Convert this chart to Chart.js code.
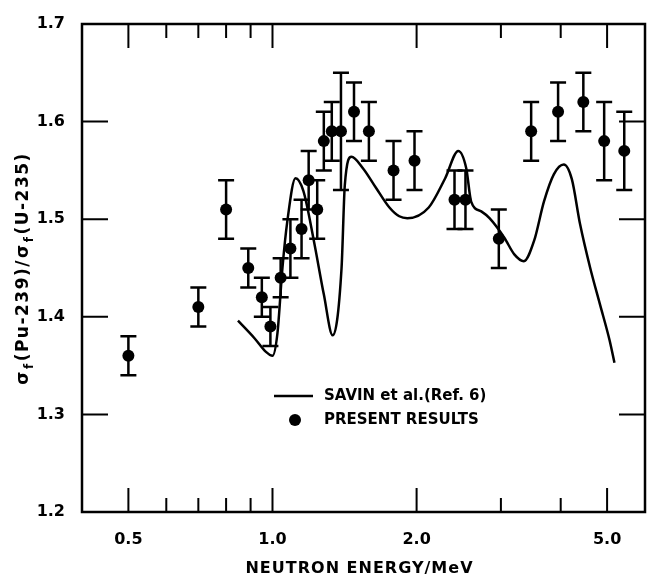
<!DOCTYPE html>
<html>
<head>
<meta charset="utf-8">
<script src="https://cdn.jsdelivr.net/npm/chart.js@4.4.0/dist/chart.umd.min.js"></script>
<style>
  html, body { margin: 0; padding: 0; background: #fff; }
  #wrap { width: 651px; height: 575px; }
</style>
</head>
<body>
<div id="wrap"><canvas id="ratioChart" width="651" height="575"></canvas></div>
<script>
// present results: neutron energy (MeV), ratio and its error
const energies = [0.50, 0.70, 0.80, 0.89, 0.95, 0.99, 1.04, 1.09, 1.15, 1.19, 1.24, 1.28, 1.33,
                  1.39, 1.48, 1.59, 1.79, 1.98, 2.40, 2.53, 2.97, 3.47, 3.95, 4.46, 4.93, 5.43];
const ratios = [1.36, 1.41, 1.51, 1.45, 1.42, 1.39, 1.44, 1.47, 1.49, 1.54, 1.51, 1.58, 1.59,
                1.59, 1.61, 1.59, 1.55, 1.56, 1.52, 1.52, 1.48, 1.59, 1.61, 1.62, 1.58, 1.57];
const errors = [0.02, 0.02, 0.03, 0.02, 0.02, 0.02, 0.02, 0.03, 0.03, 0.03, 0.03, 0.03, 0.03,
                0.06, 0.03, 0.03, 0.03, 0.03, 0.03, 0.03, 0.03, 0.03, 0.03, 0.03, 0.04, 0.04];

// Savin et al. (Ref. 6) curve
const savinEnergies = [0.847, 0.917, 0.969, 1.00, 1.024, 1.049, 1.074, 1.117, 1.16, 1.22, 1.28, 1.336,
                       1.394, 1.416, 1.462, 1.546, 1.646, 1.755, 1.84, 1.913, 2.12, 2.295, 2.444, 2.54,
                       2.60, 2.73, 2.84, 3.05, 3.20, 3.35, 3.52, 3.69, 3.87, 4.06, 4.22, 4.39, 4.61,
                       4.83, 5.06, 5.18];
const savinRatios = [1.396, 1.378, 1.364, 1.360, 1.383, 1.450, 1.498, 1.542, 1.529, 1.478, 1.423, 1.381,
                     1.450, 1.535, 1.564, 1.552, 1.532, 1.512, 1.503, 1.501, 1.512, 1.542, 1.570, 1.552,
                     1.518, 1.508, 1.501, 1.481, 1.464, 1.457, 1.478, 1.518, 1.546, 1.556, 1.541, 1.495,
                     1.450, 1.413, 1.376, 1.353];

// axis ticks
const xMajorTicks = [0.5, 1.0, 2.0, 5.0];
const xMinorTicks = [0.6, 0.7, 0.8, 0.9, 3.0, 4.0];
const yTicks = [1.3, 1.4, 1.5, 1.6];

const FONT = "'DejaVu Sans', sans-serif";

// frame, inward ticks, error bars, titles and legend
const framePlugin = {
    id: 'frame',
    afterDatasetsDraw(chart) {
        const ctx = chart.ctx;
        const x = chart.scales.x, y = chart.scales.y;
        ctx.save();
        ctx.strokeStyle = '#000';
        ctx.lineWidth = 2.5;
        energies.forEach((e, i) => {
            const px = x.getPixelForValue(e);
            const top = y.getPixelForValue(ratios[i] + errors[i]);
            const bot = y.getPixelForValue(ratios[i] - errors[i]);
            ctx.beginPath();
            ctx.moveTo(px, top); ctx.lineTo(px, bot);
            ctx.moveTo(px - 8, top); ctx.lineTo(px + 8, top);
            ctx.moveTo(px - 8, bot); ctx.lineTo(px + 8, bot);
            ctx.stroke();
        });
        ctx.restore();
    },
    afterDraw(chart) {
        const ctx = chart.ctx;
        const a = chart.chartArea;
        const x = chart.scales.x, y = chart.scales.y;
        ctx.save();
        ctx.strokeStyle = '#000';
        ctx.lineWidth = 2.5;
        ctx.strokeRect(a.left, a.top, a.right - a.left, a.bottom - a.top);

        ctx.lineWidth = 2;
        ctx.beginPath();
        xMajorTicks.concat(xMinorTicks).forEach(v => {
            const len = xMajorTicks.includes(v) ? 24 : 14;
            const px = x.getPixelForValue(v);
            ctx.moveTo(px, a.bottom); ctx.lineTo(px, a.bottom - len);
            ctx.moveTo(px, a.top); ctx.lineTo(px, a.top + len);
        });
        yTicks.forEach(v => {
            const py = y.getPixelForValue(v);
            ctx.moveTo(a.left, py); ctx.lineTo(a.left + 26, py);
            ctx.moveTo(a.right, py); ctx.lineTo(a.right - 26, py);
        });
        ctx.stroke();

        // x title
        ctx.fillStyle = '#000';
        ctx.font = 'bold 16px ' + FONT;
        ctx.letterSpacing = '1px';
        ctx.textAlign = 'center';
        ctx.textBaseline = 'middle';
        ctx.fillText('NEUTRON ENERGY/MeV', (a.left + a.right) / 2 - 4, 569);

        // y title with subscripts
        const parts = [['σ', 0], ['f', 1], ['(Pu-239)/', 0], ['σ', 0], ['f', 1], ['(U-235)', 0]];
        const big = 'bold 17px ' + FONT, small = 'bold 12px ' + FONT;
        ctx.letterSpacing = '1.5px';
        let total = 0;
        parts.forEach(p => { ctx.font = p[1] ? small : big; total += ctx.measureText(p[0]).width + 1; });
        ctx.translate(24, 268);
        ctx.rotate(-Math.PI / 2);
        ctx.textAlign = 'left';
        let cx = -total / 2;
        parts.forEach(p => {
            ctx.font = p[1] ? small : big;
            ctx.fillText(p[0], cx, p[1] ? 6 : 0);
            cx += ctx.measureText(p[0]).width + 1;
        });
        ctx.restore();

        // legend inside plot
        ctx.save();
        const lx = a.left + 192, ly1 = a.top + 372, ly2 = a.top + 396;
        ctx.strokeStyle = '#000';
        ctx.lineWidth = 2.5;
        ctx.beginPath();
        ctx.moveTo(lx, ly1); ctx.lineTo(lx + 39, ly1);
        ctx.stroke();
        ctx.fillStyle = '#000';
        ctx.beginPath();
        ctx.arc(lx + 21, ly2, 6, 0, Math.PI * 2);
        ctx.fill();
        ctx.font = 'bold 15px ' + FONT;
        ctx.textAlign = 'left';
        ctx.textBaseline = 'middle';
        ctx.fillText(chart.data.datasets[0].label, lx + 50, ly1);
        ctx.fillText(chart.data.datasets[1].label, lx + 50, ly2);
        ctx.restore();
    }
};

const ctx = document.getElementById('ratioChart').getContext('2d');
const ratioChart = new Chart(ctx, {
    type: 'scatter',
    data: {
        datasets: [{
            label: 'SAVIN et al.(Ref. 6)',
            data: savinEnergies.map((e, i) => ({ x: e, y: savinRatios[i] })),
            showLine: true,
            borderColor: '#000',
            borderWidth: 2.5,
            pointRadius: 0,
            cubicInterpolationMode: 'monotone',
            order: 2
        }, {
            label: 'PRESENT RESULTS',
            data: energies.map((e, i) => ({ x: e, y: ratios[i] })),
            showLine: false,
            pointRadius: 6,
            pointBackgroundColor: '#000',
            pointBorderWidth: 0,
            order: 1
        }]
    },
    options: {
        responsive: false,
        animation: false,
        layout: { padding: { top: 24, right: 1, left: 0, bottom: 0 } },
        plugins: {
            legend: { display: false },
            tooltip: { enabled: false }
        },
        scales: {
            x: {
                type: 'logarithmic',
                min: 0.4,
                max: 6.0,
                grid: { display: false },
                border: { display: false },
                afterBuildTicks: scale => { scale.ticks = xMajorTicks.map(v => ({ value: v })); },
                afterFit: scale => { scale.height = 63; },
                ticks: {
                    autoSkip: false,
                    maxRotation: 0,
                    padding: 10,
                    color: '#000',
                    font: { family: FONT, size: 16, weight: 'bold' },
                    callback: v => Number(v).toFixed(1)
                }
            },
            y: {
                min: 1.2,
                max: 1.7,
                grid: { display: false },
                border: { display: false },
                afterFit: scale => { scale.width = 82; },
                ticks: {
                    stepSize: 0.1,
                    padding: 9,
                    color: '#000',
                    font: { family: FONT, size: 16, weight: 'bold' },
                    callback: v => Number(v).toFixed(1)
                }
            }
        }
    },
    plugins: [framePlugin]
});
</script>
</body>
</html>
